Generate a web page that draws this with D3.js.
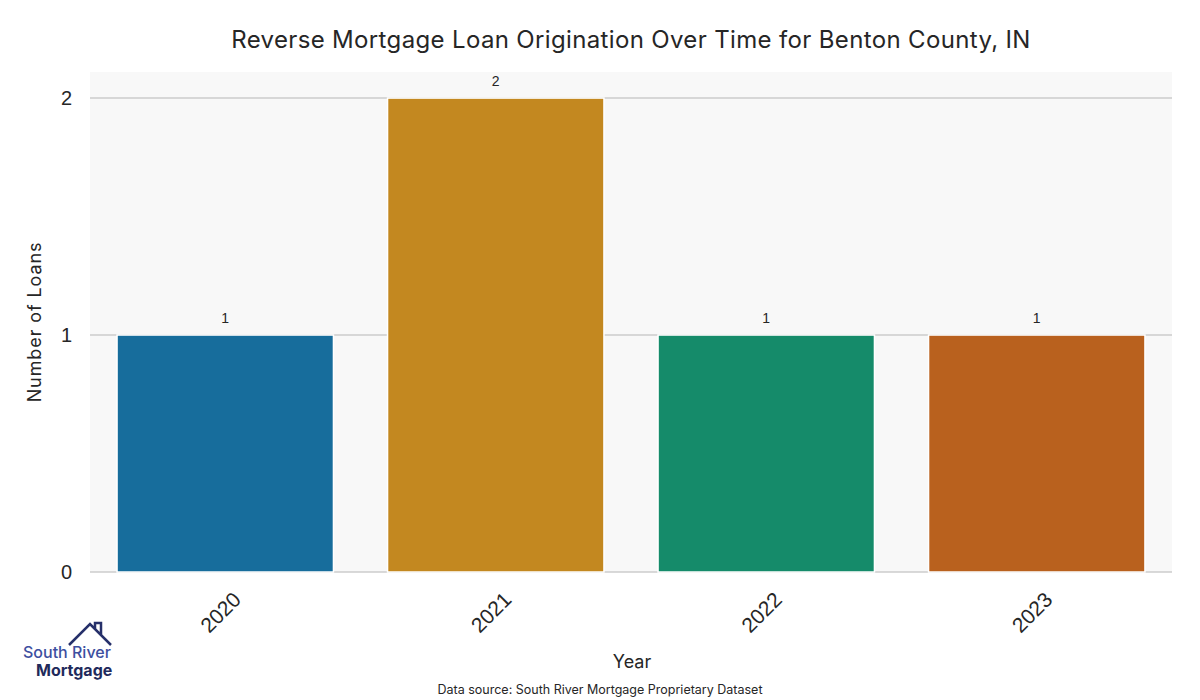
<!DOCTYPE html>
<html lang="en">
<head>
  <meta charset="UTF-8">
  <title>Reverse Mortgage Loan Origination</title>
  <script src="https://cdn.jsdelivr.net/npm/d3@7"></script>
  <style>
    body{ margin:0; background:#fff; }
    .grid line{ stroke:#cccccc; stroke-width:1.5; }
    .tick text{ font-family:"Liberation Sans", Arial, sans-serif; fill:#262626; }
  </style>
</head>
<body>
  <svg></svg>
  <script>

  var years = ["2020", "2021", "2022", "2023"],
    loans = [1, 2, 1, 1],
    colors = ["#176d9c", "#c38820", "#158b6a", "#b9611e"],
    yTicks = [0, 1, 2];

  var W = 1200, H = 700,
    mLeft = 90, mRight = 1172, mTop = 72, mBottom = 572;

  var svg = d3.select("svg").attr("width", W).attr("height", H);

  var x = d3.scaleBand().domain(years).range([mLeft, mRight])
    .paddingInner(0.2).paddingOuter(0.1);
  var y = d3.scaleLinear().domain([0, 2.11]).range([mBottom, mTop]);

  // plot background
  svg.append("rect").attr("x", mLeft).attr("y", mTop)
    .attr("width", mRight - mLeft).attr("height", mBottom - mTop)
    .attr("fill", "#f8f8f8");

  // gridlines
  svg.append("g").attr("class", "grid")
    .selectAll("line").data(yTicks).enter().append("line")
    .attr("x1", mLeft).attr("x2", mRight)
    .attr("y1", d => y(d)).attr("y2", d => y(d));

  // bars
  svg.append("g").selectAll("rect").data(loans).enter().append("rect")
    .attr("x", (d, i) => x(years[i]))
    .attr("y", d => y(d))
    .attr("width", x.bandwidth())
    .attr("height", d => y(0) - y(d))
    .attr("fill", (d, i) => colors[i])
    .attr("stroke", "#fff").attr("stroke-width", 1.5);

  // value labels
  svg.append("g").selectAll("text").data(loans).enter().append("text")
    .attr("x", (d, i) => x(years[i]) + x.bandwidth() / 2)
    .attr("y", d => y(d) - 12)
    .attr("text-anchor", "middle")
    .style("font-family", "'Liberation Sans', Arial, sans-serif")
    .style("font-size", "14px").style("fill", "#262626")
    .text(d => d);

  // y axis
  var yAxis = svg.append("g").attr("transform", "translate(" + mLeft + ",0)")
    .call(d3.axisLeft(y).tickValues(yTicks).tickFormat(d3.format("d")).tickSize(0).tickPadding(18));
  yAxis.select(".domain").remove();
  yAxis.selectAll(".tick text").style("font-size", "20px");

  // x axis
  var xAxis = svg.append("g").attr("transform", "translate(0," + mBottom + ")")
    .call(d3.axisBottom(x).tickSize(0).tickPadding(0));
  xAxis.select(".domain").remove();
  xAxis.selectAll(".tick text")
    .style("font-size", "21px")
    .attr("text-anchor", "end")
    .attr("dy", 0)
    .attr("y", 0)
    .attr("transform", "translate(17,29) rotate(-45)");

  // titles
  svg.append("text").attr("x", 631).attr("y", 48)
    .attr("text-anchor", "middle")
    .style("font-family", "Inter, 'Noto Sans', sans-serif")
    .style("font-size", "24px").style("fill", "#262626")
    .style("letter-spacing", "0.35px")
    .text("Reverse Mortgage Loan Origination Over Time for Benton County, IN");

  svg.append("text")
    .attr("transform", "translate(41," + ((mTop + mBottom) / 2) + ") rotate(-90)")
    .attr("text-anchor", "middle")
    .style("font-family", "Inter, 'Noto Sans', sans-serif")
    .style("font-size", "18px").style("fill", "#262626")
    .style("letter-spacing", "0.9px")
    .text("Number of Loans");

  svg.append("text").attr("x", 632).attr("y", 668)
    .attr("text-anchor", "middle")
    .style("font-family", "Inter, 'Noto Sans', sans-serif")
    .style("font-size", "18px").style("fill", "#262626")
    .text("Year");

  svg.append("text").attr("x", 600).attr("y", 694)
    .attr("text-anchor", "middle")
    .style("font-family", "Inter, 'Noto Sans', sans-serif")
    .style("font-size", "12.5px").style("fill", "#262626")
    .text("Data source: South River Mortgage Proprietary Dataset");

  // logo
  var logo = svg.append("g");
  logo.append("path")
    .attr("d", "M69,645 L90,624 L111,645 M95,629 L95,623 L101,623 L101,635")
    .attr("fill", "none").attr("stroke", "#26306a").attr("stroke-width", 2.5)
    .attr("stroke-linejoin", "miter");
  logo.append("text").attr("x", 23).attr("y", 658)
    .style("font-family", "Inter, 'Noto Sans', sans-serif")
    .style("font-size", "16px").style("font-weight", 500).style("fill", "#3d4fa0")
    .text("South River");
  logo.append("text").attr("x", 36).attr("y", 676)
    .style("font-family", "Inter, 'Noto Sans', sans-serif")
    .style("font-size", "16px").style("font-weight", 700).style("fill", "#1f2a5c")
    .text("Mortgage");

  </script>
</body>
</html>
